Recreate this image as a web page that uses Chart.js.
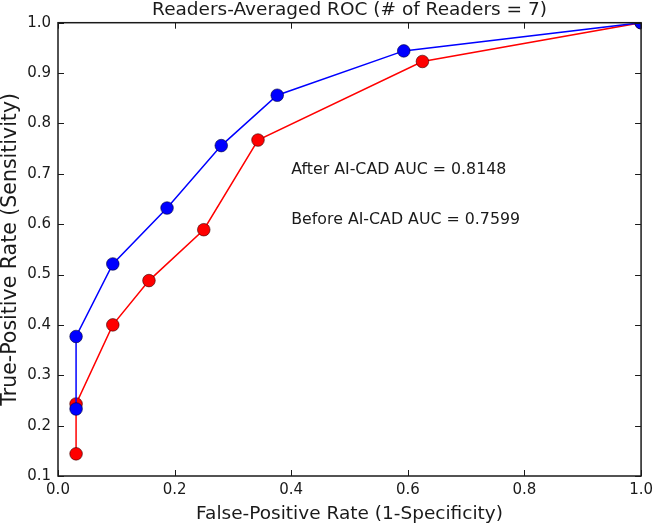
<!DOCTYPE html>
<html>
<head>
<meta charset="utf-8">
<script src="https://cdn.jsdelivr.net/npm/chart.js@4/dist/chart.umd.min.js"></script>
<style>
  html, body { margin: 0; padding: 0; background: #fff; }
  #wrap { width: 658px; height: 525px; }
</style>
</head>
<body>
<div id="wrap"><canvas id="roc"></canvas></div>
<script>
// values
const afterFpr  = [0.031, 0.031, 0.094, 0.187, 0.280, 0.376, 0.593, 1.0];
const afterTpr  = [0.233, 0.377, 0.521, 0.632, 0.756, 0.856, 0.944, 1.0];
const beforeFpr = [0.031, 0.031, 0.094, 0.156, 0.250, 0.343, 0.625, 1.0];
const beforeTpr = [0.144, 0.243, 0.400, 0.488, 0.589, 0.767, 0.923, 1.0];

const xTicks = [0.0, 0.2, 0.4, 0.6, 0.8, 1.0];
const yTicks = [0.1, 0.2, 0.3, 0.4, 0.5, 0.6, 0.7, 0.8, 0.9, 1.0];

const titleText = 'Readers-Averaged ROC (# of Readers = 7)';
const notes = [
    { x: 0.4, y: 0.7, text: 'After AI-CAD AUC = 0.8148' },
    { x: 0.4, y: 0.6, text: 'Before AI-CAD AUC = 0.7599' }
];

const FONT = "'DejaVu Sans', sans-serif";
const INK = '#1a1a1a';

const toPoints = (xs, ys) => xs.map((x, i) => ({ x: x, y: ys[i] }));

// matplotlib style box with inward ticks on all sides, the title over the plot area and the AUC notes
const frameAndNotes = {
    id: 'frameAndNotes',
    afterDatasetsDraw(chart) {
        const { ctx, chartArea: a, scales } = chart;
        const len = 6;
        ctx.save();
        ctx.strokeStyle = INK;
        ctx.lineWidth = 1;
        ctx.beginPath();
        xTicks.forEach(v => {
            const px = Math.round(scales.x.getPixelForValue(v)) + 0.5;
            ctx.moveTo(px, a.bottom); ctx.lineTo(px, a.bottom - len);
            ctx.moveTo(px, a.top); ctx.lineTo(px, a.top + len);
        });
        yTicks.forEach(v => {
            const py = Math.round(scales.y.getPixelForValue(v)) + 0.5;
            ctx.moveTo(a.left, py); ctx.lineTo(a.left + len, py);
            ctx.moveTo(a.right, py); ctx.lineTo(a.right - len, py);
        });
        ctx.stroke();
        ctx.lineWidth = 1.5;
        ctx.strokeRect(a.left, a.top, a.right - a.left, a.bottom - a.top);

        ctx.fillStyle = INK;
        ctx.textBaseline = 'alphabetic';
        ctx.font = '18.5px ' + FONT;
        ctx.textAlign = 'center';
        ctx.fillText(titleText, (a.left + a.right) / 2, 15);

        ctx.font = '15.8px ' + FONT;
        ctx.textAlign = 'left';
        notes.forEach(n => {
            ctx.fillText(n.text, scales.x.getPixelForValue(n.x), scales.y.getPixelForValue(n.y));
        });
        ctx.restore();
    }
};

new Chart(document.getElementById('roc').getContext('2d'), {
    type: 'scatter',
    data: {
        datasets: [
            {
                label: 'After AI-CAD',
                data: toPoints(afterFpr, afterTpr),
                showLine: true,
                borderColor: '#0000ff',
                borderWidth: 1.5,
                pointBackgroundColor: '#0000ff',
                pointBorderColor: '#000033',
                pointBorderWidth: 0.6,
                pointRadius: 6.3,
                order: 0
            },
            {
                label: 'Before AI-CAD',
                data: toPoints(beforeFpr, beforeTpr),
                showLine: true,
                borderColor: '#ff0000',
                borderWidth: 1.5,
                pointBackgroundColor: '#ff0000',
                pointBorderColor: '#330000',
                pointBorderWidth: 0.6,
                pointRadius: 6.3,
                order: 1
            }
        ]
    },
    options: {
        responsive: true,
        maintainAspectRatio: false,
        animation: false,
        layout: { padding: { left: 0, right: 14, top: 22.7, bottom: 0 } },
        plugins: {
            legend: { display: false },
            tooltip: { enabled: false },
            title: { display: false }
        },
        scales: {
            x: {
                type: 'linear',
                min: 0,
                max: 1,
                afterBuildTicks: s => { s.ticks = xTicks.map(v => ({ value: v })); },
                afterFit: s => { s.height = 49; },
                grid: { display: false, drawTicks: false },
                border: { display: false },
                ticks: {
                    color: INK,
                    padding: 5,
                    maxRotation: 0,
                    font: { family: FONT, size: 15 },
                    callback: v => v.toFixed(1)
                },
                title: {
                    display: true,
                    text: 'False-Positive Rate (1-Specificity)',
                    color: INK,
                    font: { family: FONT, size: 18.5, lineHeight: 1 },
                    padding: { top: 0, bottom: 1.2 }
                }
            },
            y: {
                type: 'linear',
                min: 0.1,
                max: 1.0,
                afterBuildTicks: s => { s.ticks = yTicks.map(v => ({ value: v })); },
                afterFit: s => { s.width = 58; },
                grid: { display: false, drawTicks: false },
                border: { display: false },
                ticks: {
                    color: INK,
                    padding: 7,
                    font: { family: FONT, size: 15 },
                    callback: v => v.toFixed(1)
                },
                title: {
                    display: true,
                    text: 'True-Positive Rate (Sensitivity)',
                    color: INK,
                    font: { family: FONT, size: 20.5, lineHeight: 1 },
                    padding: { top: 0.5, bottom: 0 }
                }
            }
        }
    },
    plugins: [frameAndNotes]
});
</script>
</body>
</html>
